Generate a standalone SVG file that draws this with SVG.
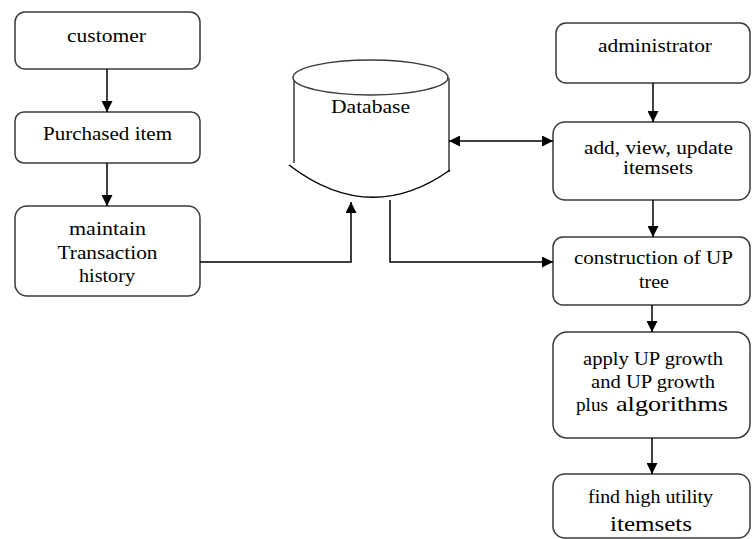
<svg xmlns="http://www.w3.org/2000/svg" width="752" height="539" viewBox="0 0 752 539">
<defs>
<marker id="ah" viewBox="0 0 10 10" refX="10" refY="5" markerWidth="11" markerHeight="11" markerUnits="userSpaceOnUse" orient="auto-start-reverse">
<path d="M0,0 L10,5 L0,10 z" fill="#000"/>
</marker>
<style>
.box{fill:#fff;stroke:#3a3a3a;stroke-width:1.5}
.t{font-family:"Liberation Serif","Times New Roman",serif;font-size:18px;fill:#000;text-anchor:middle}
.big{font-size:21px}
.ln{fill:none;stroke:#000;stroke-width:1.5}
</style>
</defs>
<rect width="752" height="539" fill="#fff"/>
<g id="customer">
<rect class="box" x="15" y="12" width="185" height="57" rx="10"/>
<text class="t" x="106.5" y="42" textLength="79" lengthAdjust="spacingAndGlyphs">customer</text>
</g>
<g id="purchased">
<rect class="box" x="15" y="112" width="185" height="51" rx="9"/>
<text class="t" x="107.5" y="140" textLength="129" lengthAdjust="spacingAndGlyphs">Purchased item</text>
</g>
<g id="maintain">
<rect class="box" x="15" y="206" width="185" height="90" rx="12"/>
<text class="t" x="107.5" y="235" textLength="77" lengthAdjust="spacingAndGlyphs">maintain</text>
<text class="t" x="107.5" y="259" textLength="100" lengthAdjust="spacingAndGlyphs">Transaction</text>
<text class="t" x="107" y="282" textLength="56" lengthAdjust="spacingAndGlyphs">history</text>
</g>
<g id="database">
<path d="M294,78 L294,163 M449,78 L449,172" class="box" fill="none"/>
<path d="M289,165 Q370,227 450,170" class="ln" stroke="#3a3a3a"/>
<ellipse class="box" cx="370.5" cy="77.5" rx="77.5" ry="17.5"/>
<text class="t" x="370.5" y="113" textLength="79" lengthAdjust="spacingAndGlyphs">Database</text>
</g>
<g id="administrator">
<rect class="box" x="556" y="23" width="194" height="60" rx="10"/>
<text class="t" x="655" y="52" textLength="114" lengthAdjust="spacingAndGlyphs">administrator</text>
</g>
<g id="add">
<rect class="box" x="553" y="122" width="197" height="78" rx="12"/>
<text class="t" x="658.5" y="154" textLength="149" lengthAdjust="spacingAndGlyphs">add, view, update</text>
<text class="t" x="658" y="174" textLength="70" lengthAdjust="spacingAndGlyphs">itemsets</text>
</g>
<g id="construction">
<rect class="box" x="553" y="237" width="197" height="68" rx="10"/>
<text class="t" x="653.5" y="264" textLength="159" lengthAdjust="spacingAndGlyphs">construction of UP</text>
<text class="t" x="654" y="288" textLength="30" lengthAdjust="spacingAndGlyphs">tree</text>
</g>
<g id="apply">
<rect class="box" x="553" y="332" width="197" height="106" rx="14"/>
<text class="t" x="653" y="365" textLength="140" lengthAdjust="spacingAndGlyphs">apply UP growth</text>
<text class="t" x="653" y="388" textLength="124" lengthAdjust="spacingAndGlyphs">and UP growth</text>
<text class="t" x="592" y="411" textLength="32" lengthAdjust="spacingAndGlyphs">plus</text>
<text class="t big" x="672" y="411" textLength="112" lengthAdjust="spacingAndGlyphs">algorithms</text>
</g>
<g id="find">
<rect class="box" x="553" y="474" width="197" height="64" rx="12"/>
<text class="t" x="650.5" y="503" textLength="125" lengthAdjust="spacingAndGlyphs">find high utility</text>
<text class="t big" x="651" y="531" textLength="82" lengthAdjust="spacingAndGlyphs">itemsets</text>
</g>
<g id="connectors">
<line class="ln" x1="107" y1="69" x2="107" y2="112" marker-end="url(#ah)"/>
<line class="ln" x1="107" y1="163" x2="107" y2="206" marker-end="url(#ah)"/>
<polyline class="ln" points="200,262 351,262 351,202" marker-end="url(#ah)"/>
<polyline class="ln" points="390,200 390,262 553,262" marker-end="url(#ah)"/>
<line class="ln" x1="449" y1="141" x2="553" y2="141" marker-start="url(#ah)" marker-end="url(#ah)"/>
<line class="ln" x1="653" y1="83" x2="653" y2="122" marker-end="url(#ah)"/>
<line class="ln" x1="653" y1="200" x2="653" y2="237" marker-end="url(#ah)"/>
<line class="ln" x1="652" y1="305" x2="652" y2="332" marker-end="url(#ah)"/>
<line class="ln" x1="652" y1="438" x2="652" y2="474" marker-end="url(#ah)"/>
</g>
</svg>
